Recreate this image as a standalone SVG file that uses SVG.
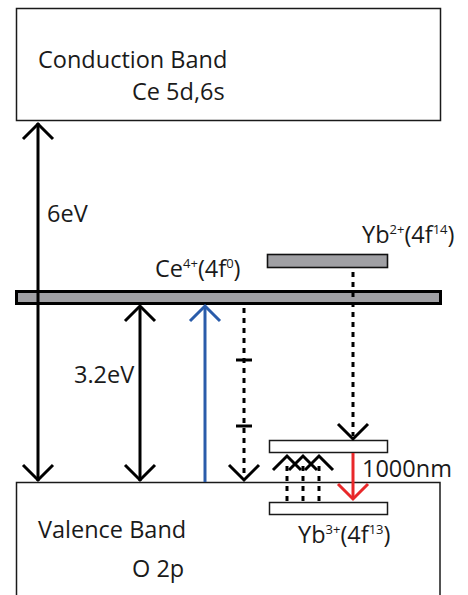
<svg xmlns="http://www.w3.org/2000/svg" width="468" height="595" viewBox="0 0 468 595">
<style>
text{font-family:"Open Sans","Noto Sans","DejaVu Sans",sans-serif;font-size:23.5px;fill:#1a1a1a}
.sup{font-size:13px}
.box{fill:#fff;stroke:#1a1a1a;stroke-width:1.5}
.lvl{fill:#a0a0a4;stroke:#111;stroke-width:1.6}
.ar{fill:none;stroke:#000;stroke-width:3}
.dot{fill:none;stroke:#000;stroke-width:3;stroke-dasharray:5 5}
</style>
<rect width="468" height="595" fill="#fff"/>
<g id="conduction-band">
<rect class="box" x="16.5" y="8.5" width="424" height="112"/>
<text x="38" y="68">Conduction Band</text>
<text x="132" y="100">Ce 5d,6s</text>
</g>
<g id="valence-band">
<rect class="box" x="16.5" y="482.5" width="423.5" height="130"/>
<text x="38" y="538">Valence Band</text>
<text x="132" y="577">O 2p</text>
</g>
<g id="ce-level">
<rect x="16.5" y="291.5" width="424" height="12" fill="#a0a0a4" stroke="#000" stroke-width="3"/>
<text x="155" y="277">Ce<tspan class="sup" dy="-9">4+</tspan><tspan dy="9">(4f</tspan><tspan class="sup" dy="-9">0</tspan><tspan dy="9">)</tspan></text>
</g>
<g id="yb2-level">
<rect class="lvl" x="267.5" y="254.5" width="120" height="13"/>
<text x="362" y="243">Yb<tspan class="sup" dy="-9">2+</tspan><tspan dy="9">(4f</tspan><tspan class="sup" dy="-9">14</tspan><tspan dy="9">)</tspan></text>
</g>
<g id="yb3-level">
<rect class="box" x="269.5" y="440.5" width="118" height="12"/>
<rect class="box" x="269.5" y="502.5" width="118" height="12"/>
<text x="298" y="543">Yb<tspan class="sup" dy="-9">3+</tspan><tspan dy="9">(4f</tspan><tspan class="sup" dy="-9">13</tspan><tspan dy="9">)</tspan></text>
</g>
<g id="labels">
<text x="47" y="222">6eV</text>
<text x="74" y="383">3.2eV</text>
<text x="362" y="477">1000nm</text>
</g>
<g id="connectors">
<line class="ar" x1="38" y1="123" x2="38" y2="481"/>
<polyline class="ar" points="23,139 38,124 53,139"/>
<polyline class="ar" points="23,465 38,480 53,465"/>
<line class="ar" x1="140" y1="306" x2="140" y2="481"/>
<polyline class="ar" points="125,321 140,306 155,321"/>
<polyline class="ar" points="125,465 140,480 155,465"/>
<line x1="205" y1="482" x2="205" y2="306" stroke="#2a5caa" stroke-width="3"/>
<polyline points="190,321 205,306 220,321" fill="none" stroke="#2a5caa" stroke-width="3"/>
<line class="dot" x1="244" y1="308" x2="244" y2="478"/>
<line x1="236" y1="360" x2="252" y2="360" stroke="#000" stroke-width="3"/>
<line x1="236" y1="426" x2="252" y2="426" stroke="#000" stroke-width="3"/>
<polyline class="ar" points="229,465 244,480 259,465"/>
<line class="dot" x1="353" y1="272" x2="353" y2="436"/>
<polyline class="ar" points="338,424 353,439 368,424"/>
<line x1="353" y1="453" x2="353" y2="499" stroke="#e8282a" stroke-width="3"/>
<polyline points="338,484 353,499 368,484" fill="none" stroke="#e8282a" stroke-width="3"/>
<line class="dot" x1="287" y1="501" x2="287" y2="462"/>
<line class="dot" x1="303" y1="501" x2="303" y2="462"/>
<line class="dot" x1="319" y1="501" x2="319" y2="462"/>
<polyline class="ar" points="273,470 287,456 301,470"/>
<polyline class="ar" points="289,470 303,456 317,470"/>
<polyline class="ar" points="305,470 319,456 333,470"/>
</g>
</svg>
